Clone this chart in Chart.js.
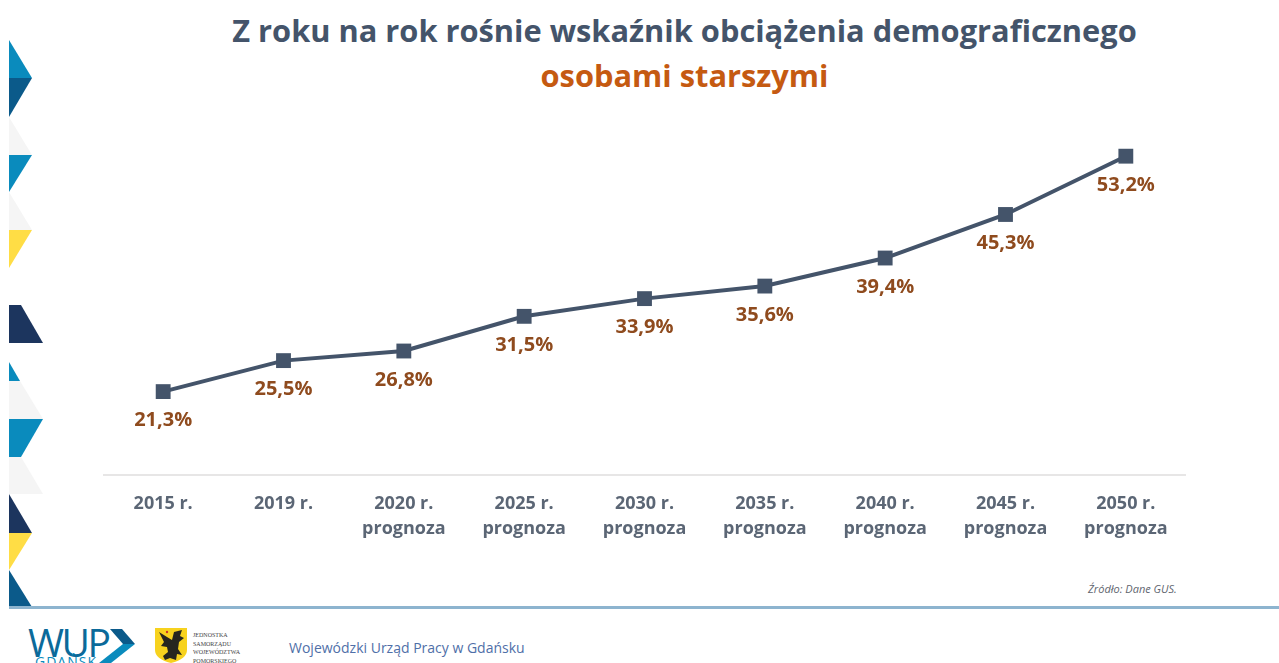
<!DOCTYPE html>
<html lang="pl">
<head>
<meta charset="utf-8">
<title>Wskaźnik obciążenia demograficznego</title>
<script src="https://cdn.jsdelivr.net/npm/chart.js@4.4.1/dist/chart.umd.min.js"></script>
<style>
  html, body { margin:0; padding:0; background:#fff; }
  body { width:1279px; height:663px; overflow:hidden; position:relative; font-family:"Open Sans", sans-serif; }
  .abs { position:absolute; white-space:nowrap; }
  #title { left:0; width:1369px; top:8px; text-align:center; font-size:30.8px; line-height:45px; font-weight:700; color:#44546a; }
  #title span { color:#c55a11; }
  #chartBox { position:absolute; left:103px; top:106px; width:1083px; height:444px; }
  #source { left:1088px; top:581px; font-size:11px; font-style:italic; color:#5f6670; }
  #rule { position:absolute; left:9px; right:0; top:606px; height:3px; background:#8db4cf; }
  #footer { left:289px; top:638px; font-size:14px; color:#4f6fa8; }
  #wup { left:28px; top:620px; font-size:39px; line-height:44px; color:#0b6a9a; letter-spacing:-2.5px; }
  #gdansk { left:35px; top:653px; font-size:14px; line-height:17px; color:#0a8bbd; letter-spacing:1px; }
  #jst { left:193px; top:631px; font-size:6px; line-height:8.7px; color:#444; white-space:pre; font-family:"Liberation Serif", serif; }
  svg { position:absolute; left:0; top:0; }
</style>
</head>
<body>
<svg width="1279" height="663">
  <!-- left ribbon -->
  <polygon points="9,40 32,78 9,78" fill="#0a8bbd"/>
  <polygon points="9,78 32,78 9,117" fill="#0b5a8a"/>
  <polygon points="9,117 32,155 9,155" fill="#f5f5f5"/>
  <polygon points="9,155 32,155 9,192" fill="#0a8bbd"/>
  <polygon points="9,192 32,230 9,230" fill="#f5f5f5"/>
  <polygon points="9,230 32,230 9,268" fill="#ffdd45"/>
  <polygon points="9,305 21,305 43,343 9,343" fill="#1c355e"/>
  <polygon points="9,362 20,381 9,381" fill="#0a8bbd"/>
  <polygon points="9,381 20,381 43,419 9,419" fill="#f5f5f5"/>
  <polygon points="9,419 43,419 21,457 9,457" fill="#0a8bbd"/>
  <polygon points="9,457 21,457 43,494 9,494" fill="#f5f5f5"/>
  <polygon points="9,494 32,533 9,533" fill="#1c355e"/>
  <polygon points="9,533 32,533 9,570" fill="#ffdd45"/>
  <polygon points="9,570 32,607 9,607" fill="#0b5a8a"/>
  <!-- WUP chevron -->
  <polygon points="110,629 122,629 135,644 123,644" fill="#0b5a8a"/>
  <polygon points="123,644 135,644 111,663 99,663" fill="#0a8bbd"/>
  <!-- crest -->
  <path d="M155,628 H187 V650 Q187,659 171,663 Q155,659 155,650 Z" fill="#f7d21e"/>
  <path d="M159,632 L167,637 L172,640 L174,632 L182,630 L180,636 L184,638 L179,642 L178,649 L182,655 L177,654 L176,660 L170,658 L165,660 L163,656 L168,652 L167,647 L161,646 L164,642 Z" fill="#26261f"/>
  <circle cx="167" cy="632" r="1.2" fill="#c8372b"/>
</svg>

<div id="title" class="abs">Z roku na rok rośnie wskaźnik obciążenia demograficznego<br><span>osobami starszymi</span></div>
<div id="chartBox"><canvas id="chart"></canvas></div>
<div id="source" class="abs">Źródło: Dane GUS.</div>
<div id="rule"></div>
<div id="wup" class="abs">WUP</div>
<div id="gdansk" class="abs">GDAŃSK</div>
<div id="jst" class="abs">JEDNOSTKA
SAMORZĄDU
WOJEWÓDZTWA
POMORSKIEGO</div>
<div id="footer" class="abs">Wojewódzki Urząd Pracy w Gdańsku</div>

<script>
  const categories = [
    '2015 r.', '2019 r.',
    ['2020 r.', 'prognoza'], ['2025 r.', 'prognoza'], ['2030 r.', 'prognoza'],
    ['2035 r.', 'prognoza'], ['2040 r.', 'prognoza'], ['2045 r.', 'prognoza'], ['2050 r.', 'prognoza']
  ];
  const ratio = [21.3, 25.5, 26.8, 31.5, 33.9, 35.6, 39.4, 45.3, 53.2];

  const LINE = '#44546a';
  const LABEL = '#8f4b1e';

  // value labels sit under each point
  const valueLabels = {
    id: 'valueLabels',
    afterDatasetsDraw(chart){
      const ctx = chart.ctx;
      const pts = chart.getDatasetMeta(0).data;
      ctx.save();
      ctx.font = '700 20px "Open Sans", sans-serif';
      ctx.fillStyle = LABEL;
      ctx.textAlign = 'center';
      ctx.textBaseline = 'middle';
      pts.forEach((p, i)=>{
        ctx.fillText(ratio[i].toFixed(1).replace('.', ',') + '%', p.x, p.y + 29);
      });
      ctx.restore();
    }
  };

  new Chart(document.getElementById('chart').getContext('2d'), {
    type: 'line',
    data: {
      labels: categories,
      datasets: [{
        data: ratio,
        borderColor: LINE,
        borderWidth: 4,
        backgroundColor: LINE,
        pointStyle: 'rect',
        pointRadius: 10.5,
        pointBackgroundColor: LINE,
        pointBorderWidth: 0,
        tension: 0,
        clip: false
      }]
    },
    options: {
      responsive: true,
      maintainAspectRatio: false,
      animation: false,
      layout: { padding: 0, autoPadding: false },
      plugins: { legend: { display: false }, tooltip: { enabled: false }, title: { display: false } },
      scales: {
        y: { display: false, min: 10, max: 60 },
        x: {
          offset: true,
          grid: { display: false },
          border: { color: '#e7e6e6', width: 2 },
          ticks: {
            color: '#5b6675',
            font: { family: '"Open Sans", sans-serif', size: 18, weight: '700', lineHeight: 1.42 },
            padding: 8,
            maxRotation: 0,
            autoSkip: false
          },
          afterFit(scale){ scale.height = 75; }
        }
      }
    },
    plugins: [valueLabels]
  });
</script>
</body>
</html>
